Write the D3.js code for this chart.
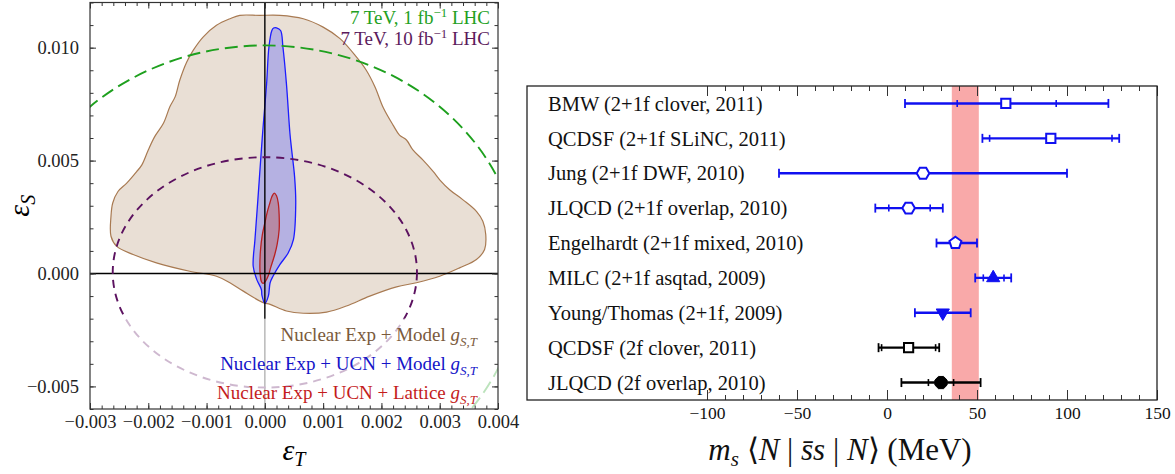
<!DOCTYPE html>
<html>
<head>
<meta charset="utf-8">
<script src="https://cdn.jsdelivr.net/npm/d3@7"></script>
<style>
  body { margin: 0; background: #fff; }
  svg, svg text { font-family: "Liberation Serif", "Times New Roman", serif; }
  svg { display: block; }
</style>
</head>
<body>
<svg id="chart" width="1175" height="474"></svg>
<script>
// ---------- left panel data (eps_T, eps_S in units of 1e-3) ----------
const modelContour = [
  [-0.09, 11.43], [0.26, 11.43], [0.66, 11.28], [1.0, 10.91], [1.29, 10.40], [1.57, 9.59],
  [1.74, 9.0], [1.89, 8.26], [2.03, 7.35], [2.20, 6.57], [2.31, 6.13], [2.43, 5.91],
  [2.54, 5.47], [2.71, 5.03], [2.89, 4.51], [3.0, 4.15], [3.17, 3.71], [3.40, 3.26],
  [3.63, 2.75], [3.74, 2.31], [3.79, 1.72], [3.77, 1.06], [3.63, 0.62], [3.34, 0.25],
  [3.0, -0.12], [2.60, -0.41], [2.26, -0.59], [1.80, -1.0], [1.40, -1.44], [1.06, -1.71],
  [0.66, -1.76], [0.37, -1.66], [0.09, -1.37], [-0.03, -1.29], [-0.37, -0.78], [-0.60, -0.41],
  [-0.83, -0.12], [-1.29, 0.10], [-1.86, 0.47], [-2.26, 0.84], [-2.54, 1.20], [-2.64, 1.65],
  [-2.64, 2.53], [-2.61, 3.12], [-2.52, 3.63], [-2.37, 4.0], [-2.20, 4.51], [-2.11, 4.81],
  [-2.0, 5.47], [-1.89, 6.06], [-1.74, 6.65], [-1.63, 7.38], [-1.54, 7.82], [-1.46, 8.56],
  [-1.34, 9.37], [-1.23, 9.88], [-1.06, 10.47], [-0.83, 10.99], [-0.60, 11.28], [-0.43, 11.43]
];
const ucnModelContour = [
  [0.20, 10.88], [0.27, 10.76], [0.31, 10.03], [0.37, 8.41], [0.43, 6.21], [0.46, 5.47],
  [0.51, 4.29], [0.53, 3.12], [0.49, 1.50], [0.40, 0.91], [0.26, 0.40], [0.14, -0.12],
  [0.09, -0.41], [0.06, -1.0], [0.0, -1.32], [-0.05, -0.97], [-0.06, -0.71], [-0.14, -0.26],
  [-0.20, 0.32], [-0.17, 1.50], [-0.12, 3.26], [-0.06, 5.47], [-0.03, 6.50], [0.03, 8.41],
  [0.07, 10.03], [0.12, 10.76], [0.15, 10.87]
];
const ucnLatticeContour = [
  [0.16, 3.56], [0.20, 3.44], [0.23, 3.12], [0.245, 2.60], [0.245, 1.94], [0.21, 1.28],
  [0.17, 0.84], [0.10, 0.26], [0.06, -0.09], [0.01, -0.35], [-0.03, -0.44], [-0.06, -0.35],
  [-0.08, -0.04], [-0.086, 0.32], [-0.074, 1.06], [-0.043, 1.72], [0.0, 2.24], [0.043, 2.74],
  [0.086, 3.12], [0.12, 3.40]
];
// LHC reach ellipses: centre and half axes
const lhcCx = [0, 0];
const lhcCy = [0, 0.05];
const lhcRx = [4.4, 2.61];
const lhcRy = [10.1, 5.1];
const xTicksL = [-3, -2, -1, 0, 1, 2, 3, 4];
const yTicksL = [-5, 0, 5, 10];

// ---------- right panel data ----------
const rowLabels = [
  'BMW (2+1f clover, 2011)', 'QCDSF (2+1f SLiNC, 2011)', 'Jung (2+1f DWF, 2010)',
  'JLQCD (2+1f overlap, 2010)', 'Engelhardt (2+1f mixed, 2010)', 'MILC (2+1f asqtad, 2009)',
  'Young/Thomas (2+1f, 2009)', 'QCDSF (2f clover, 2011)', 'JLQCD (2f overlap, 2010)'
];
const centralVals = [66, 91, 20, 12, 38, 59, 31, 12, 30];
const statLo = [39, 57, null, 1, null, 53.5, null, -3, 23];
const statHi = [94, 125, null, 24, null, 65, null, 27, 37];
const totLo = [10, 53, -60, -6.5, 27.5, 49, 15.5, -4.7, 8];
const totHi = [123, 129, 100, 31, 50, 69, 46.5, 29, 52];
const markerTypes = ['square', 'square', 'hexagon', 'hexagon', 'pentagon', 'triUp', 'triDown', 'square', 'circle'];
const markerFilled = [false, false, false, false, false, true, true, false, true];
const nf2 = [false, false, false, false, false, false, false, true, true];
const bandRange = [36, 51];
const xTicksR = [-100, -50, 0, 50, 100, 150];

const svg = d3.select('#chart');
const SERIF = '"Liberation Serif", "Times New Roman", serif';

// ================= left panel =================
const L = {left: 90, right: 498, top: 2.5, bottom: 409};
const xL = d3.scaleLinear().domain([-3, 4]).range([L.left, L.right]);
const yL = d3.scaleLinear().domain([-6, 12]).range([L.bottom, L.top]);

svg.append('clipPath').attr('id', 'clipL')
  .append('rect')
  .attr('x', L.left).attr('y', L.top)
  .attr('width', L.right - L.left).attr('height', L.bottom - L.top);

const gL = svg.append('g').attr('clip-path', 'url(#clipL)');

const contour = d3.line()
  .x(d => xL(d[0]))
  .y(d => yL(d[1]))
  .curve(d3.curveCatmullRomClosed.alpha(0.5));

gL.append('path').datum(modelContour)
  .attr('d', contour)
  .attr('fill', '#e9dfd5')
  .attr('stroke', '#a87a52')
  .attr('stroke-width', 1.2);
gL.append('path').datum(ucnModelContour)
  .attr('d', contour)
  .attr('fill', '#b5b1e2')
  .attr('stroke', '#1c1cff')
  .attr('stroke-width', 1.3);
gL.append('path').datum(ucnLatticeContour)
  .attr('d', contour)
  .attr('fill', '#b68aa6')
  .attr('stroke', '#b82020')
  .attr('stroke-width', 1.3);

// axes through origin
gL.append('line')
  .attr('x1', xL(0)).attr('x2', xL(0))
  .attr('y1', L.top).attr('y2', L.bottom)
  .attr('stroke', '#000').attr('stroke-width', 1.4);
gL.append('line')
  .attr('x1', L.left).attr('x2', L.right)
  .attr('y1', yL(0)).attr('y2', yL(0))
  .attr('stroke', '#000').attr('stroke-width', 1.4);

// LHC ellipses
const lhcColors = ['#1ea01e', '#5c1260'];
const lhcDash = ['13,6', '8,6'];
lhcCx.forEach((cx, i) => {
  gL.append('ellipse')
    .attr('cx', xL(cx))
    .attr('cy', yL(lhcCy[i]))
    .attr('rx', xL(lhcRx[i]) - xL(0))
    .attr('ry', yL(0) - yL(lhcRy[i]))
    .attr('fill', 'none')
    .attr('stroke', lhcColors[i])
    .attr('stroke-width', 1.9)
    .attr('stroke-dasharray', lhcDash[i]);
});

// pale legend backdrop
gL.append('rect')
  .attr('x', L.left).attr('y', yL(-2))
  .attr('width', L.right - L.left).attr('height', L.bottom - yL(-2))
  .attr('fill', '#fff').attr('opacity', 0.7);

// legends
function lhcLegend(y, color, lumi) {
  const t = svg.append('text')
    .attr('x', 490).attr('y', y)
    .attr('text-anchor', 'end')
    .style('font-family', SERIF)
    .style('font-size', '19px')
    .attr('fill', color);
  t.append('tspan').text('7 TeV, ' + lumi + ' fb');
  t.append('tspan').attr('dy', -7).style('font-size', '13px').text('\u22121');
  t.append('tspan').attr('dy', 7).text(' LHC');
}
lhcLegend(24, '#22a022', '1');
lhcLegend(45, '#5c1a5c', '10');

function fitLegend(y, color, label) {
  const t = svg.append('text')
    .attr('x', 477).attr('y', y)
    .attr('text-anchor', 'end')
    .style('font-family', SERIF)
    .style('font-size', '19px')
    .attr('fill', color);
  t.append('tspan').text(label + ' ');
  t.append('tspan').style('font-style', 'italic').text('g');
  t.append('tspan').attr('dy', 5).style('font-style', 'italic').style('font-size', '13px').text('S,T');
}
fitLegend(341, '#7a5a3c', 'Nuclear Exp + Model');
fitLegend(370, '#1414c8', 'Nuclear Exp + UCN + Model');
fitLegend(399, '#c41c1c', 'Nuclear Exp + UCN + Lattice');

// frame ticks
const fmtL = d => d3.format('.3f')(d / 1000);
const minorX = d3.range(-3, 4.001, 0.2);
const minorY = d3.range(-6, 12.001, 1);

function tickAxis(axis, transform) {
  const g = svg.append('g').attr('transform', transform).call(axis);
  g.attr('font-family', SERIF);
  g.select('.domain').remove();
  g.selectAll('line').attr('stroke', '#333');
  g.selectAll('text').style('font-family', SERIF);
  return g;
}
tickAxis(d3.axisBottom(xL).tickValues(xTicksL).tickSize(-6).tickPadding(6).tickFormat(fmtL), `translate(0,${L.bottom})`)
  .selectAll('text').style('font-size', '18.5px').attr('fill', '#222');
tickAxis(d3.axisBottom(xL).tickValues(minorX).tickSize(-3.5).tickFormat(''), `translate(0,${L.bottom})`);
tickAxis(d3.axisTop(xL).tickValues(xTicksL).tickSize(-6).tickFormat(''), `translate(0,${L.top})`);
tickAxis(d3.axisTop(xL).tickValues(minorX).tickSize(-3.5).tickFormat(''), `translate(0,${L.top})`);
tickAxis(d3.axisLeft(yL).tickValues(yTicksL).tickSize(-6).tickPadding(11).tickFormat(fmtL), `translate(${L.left},0)`)
  .selectAll('text').style('font-size', '18.5px').attr('fill', '#222');
tickAxis(d3.axisLeft(yL).tickValues(minorY).tickSize(-3.5).tickFormat(''), `translate(${L.left},0)`);
tickAxis(d3.axisRight(yL).tickValues(yTicksL).tickSize(-6).tickFormat(''), `translate(${L.right},0)`);
tickAxis(d3.axisRight(yL).tickValues(minorY).tickSize(-3.5).tickFormat(''), `translate(${L.right},0)`);

svg.append('rect')
  .attr('x', L.left).attr('y', L.top)
  .attr('width', L.right - L.left).attr('height', L.bottom - L.top)
  .attr('fill', 'none').attr('stroke', '#333').attr('stroke-width', 1.2);

// axis labels
const xLab = svg.append('text')
  .attr('x', (L.left + L.right) / 2).attr('y', 460)
  .attr('text-anchor', 'middle')
  .style('font-family', SERIF)
  .style('font-size', '30px').style('font-style', 'italic');
xLab.append('tspan').text('\u03b5');
xLab.append('tspan').attr('dy', 6).style('font-size', '20px').text('T');

const yLab = svg.append('text')
  .attr('transform', `translate(29,${(L.top + L.bottom) / 2}) rotate(-90)`)
  .attr('text-anchor', 'middle')
  .style('font-family', SERIF)
  .style('font-size', '30px').style('font-style', 'italic');
yLab.append('tspan').text('\u03b5');
yLab.append('tspan').attr('dy', 6).style('font-size', '20px').text('S');

// ================= right panel =================
const R = {left: 527, right: 1157, top: 86, bottom: 400};
const xR = d3.scaleLinear().domain([-200, 150]).range([R.left, R.right]);
const yR = d3.scaleBand().domain(rowLabels).range([R.top, R.bottom]);
const rowY = i => yR(rowLabels[i]) + yR.bandwidth() / 2;

svg.append('rect')
  .attr('x', xR(bandRange[0])).attr('y', R.top)
  .attr('width', xR(bandRange[1]) - xR(bandRange[0]))
  .attr('height', R.bottom - R.top)
  .attr('fill', '#f9a9a9');

svg.append('g').selectAll('text')
  .data(rowLabels)
  .enter()
  .append('text')
  .attr('x', 548)
  .attr('y', d => yR(d) + yR.bandwidth() / 2)
  .attr('dy', '0.35em')
  .style('font-family', SERIF)
  .style('font-size', '20.5px')
  .attr('fill', '#111')
  .text(d => d);

function polygon(n, r, rot) {
  const pts = d3.range(n).map(k => {
    const a = rot + k * 2 * Math.PI / n;
    return [r * Math.cos(a), r * Math.sin(a)];
  });
  return 'M' + pts.map(p => p.join(',')).join('L') + 'Z';
}
const markerPath = {
  square: d3.symbol().type(d3.symbolSquare).size(85)(),
  hexagon: polygon(6, 6.3, 0),
  pentagon: polygon(5, 6.3, -Math.PI / 2),
  triUp: d3.symbol().type(d3.symbolTriangle).size(75)(),
  triDown: d3.symbol().type(d3.symbolTriangle).size(75)(),
  circle: polygon(8, 6.6, Math.PI / 8)
};

const gBars = svg.append('g');
centralVals.forEach((v, i) => {
  const y = rowY(i);
  const col = nf2[i] ? '#000' : '#1010f0';
  gBars.append('line')
    .attr('x1', xR(totLo[i])).attr('x2', xR(totHi[i]))
    .attr('y1', y).attr('y2', y)
    .attr('stroke', col).attr('stroke-width', 2.4);
  [totLo[i], totHi[i]].forEach(e => {
    gBars.append('line')
      .attr('x1', xR(e)).attr('x2', xR(e))
      .attr('y1', y - 4.5).attr('y2', y + 4.5)
      .attr('stroke', col).attr('stroke-width', 1.8);
  });
  [statLo[i], statHi[i]].forEach(e => {
    if (e === null) return;
    gBars.append('line')
      .attr('x1', xR(e)).attr('x2', xR(e))
      .attr('y1', y - 3.5).attr('y2', y + 3.5)
      .attr('stroke', col).attr('stroke-width', 1.6);
  });
  gBars.append('path')
    .attr('d', markerPath[markerTypes[i]])
    .attr('transform', `translate(${xR(v)},${y})` + (markerTypes[i] === 'triDown' ? ' rotate(180)' : ''))
    .attr('fill', markerFilled[i] ? col : '#fff')
    .attr('stroke', col)
    .attr('stroke-width', markerFilled[i] ? 1 : 2);
});

const minorR = d3.range(-100, 150.001, 10);
tickAxis(d3.axisBottom(xR).tickValues(xTicksR).tickSize(-10).tickPadding(7), `translate(0,${R.bottom})`)
  .selectAll('text').style('font-size', '17.5px').attr('fill', '#111');
tickAxis(d3.axisBottom(xR).tickValues(minorR).tickSize(-5).tickFormat(''), `translate(0,${R.bottom})`);
tickAxis(d3.axisTop(xR).tickValues(xTicksR).tickSize(-10).tickFormat(''), `translate(0,${R.top})`);
tickAxis(d3.axisTop(xR).tickValues(minorR).tickSize(-5).tickFormat(''), `translate(0,${R.top})`);

svg.append('rect')
  .attr('x', R.left).attr('y', R.top)
  .attr('width', R.right - R.left).attr('height', R.bottom - R.top)
  .attr('fill', 'none').attr('stroke', '#222').attr('stroke-width', 1.3);

const tR = svg.append('text')
  .attr('x', 840).attr('y', 460)
  .attr('text-anchor', 'middle')
  .style('font-family', SERIF)
  .style('font-size', '31px')
  .attr('fill', '#111');
tR.append('tspan').style('font-style', 'italic').text('m');
tR.append('tspan').attr('dy', 6).style('font-size', '21px').style('font-style', 'italic').text('s');
tR.append('tspan').attr('dy', -6).text(' \u27e8');
tR.append('tspan').style('font-style', 'italic').text('N');
tR.append('tspan').text(' | ');
tR.append('tspan').style('font-style', 'italic').text('s\u0304s');
tR.append('tspan').text(' | ');
tR.append('tspan').style('font-style', 'italic').text('N');
tR.append('tspan').text('\u27e9  (MeV)');
</script>
</body>
</html>
